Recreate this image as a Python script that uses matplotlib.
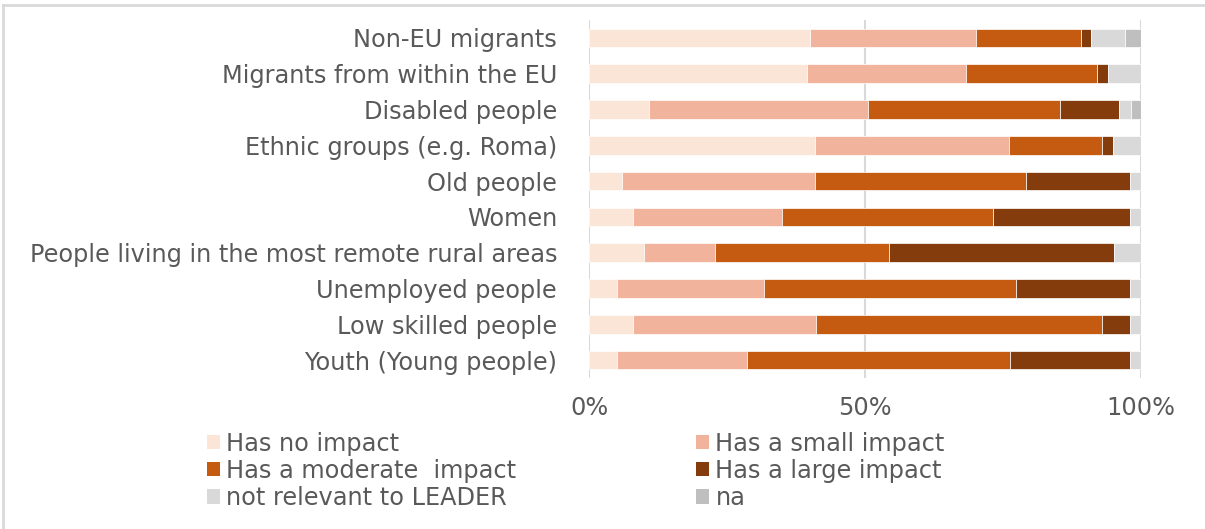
import numpy as np
import matplotlib.pyplot as plt
from matplotlib.patches import Patch
from matplotlib.lines import Line2D

categories = [
    "Non-EU migrants",
    "Migrants from within the EU",
    "Disabled people",
    "Ethnic groups (e.g. Roma)",
    "Old people",
    "Women",
    "People living in the most remote rural areas",
    "Unemployed people",
    "Low skilled people",
    "Youth (Young people)",
]

no_impact = [40.0, 39.5, 10.9, 41.0, 6.0, 7.9, 9.9, 5.0, 7.9, 5.0]
small_impact = [30.0, 28.8, 39.7, 35.0, 35.0, 27.1, 12.9, 26.7, 33.1, 23.7]
moderate_impact = [19.0, 23.7, 34.7, 17.0, 38.1, 38.1, 31.6, 45.6, 51.9, 47.5]
large_impact = [1.9, 1.9, 10.7, 2.0, 18.9, 24.9, 40.7, 20.7, 5.0, 21.8]
not_relevant = [6.1, 6.0, 2.1, 5.0, 2.0, 2.0, 4.9, 2.0, 2.0, 2.0]
na = [2.9, 0.0, 1.9, 0.0, 0.0, 0.0, 0.0, 0.0, 0.0, 0.0]

series_names = ["Has no impact", "Has a small impact", "Has a moderate  impact",
                "Has a large impact", "not relevant to LEADER", "na"]
colors = ["#FBE5D6", "#F2B39C", "#C55A11", "#843C0C", "#D9D9D9", "#BFBFBF"]
tick_labels = ["0%", "50%", "100%"]

text_color = "#595959"
fsize = 17.3

W, H = 1205, 529
fig = plt.figure(figsize=(W / 100, H / 100), dpi=100)
ax = fig.add_axes([589 / W, 1 - 378 / H, (1141 - 589) / W, (378 - 20) / H])

data = np.array([no_impact, small_impact, moderate_impact, large_impact, not_relevant, na])
totals = data.sum(axis=0)
shares = data / totals * 100

y = np.arange(len(categories))
left = np.zeros(len(categories))
for vals, name, c in zip(shares, series_names, colors):
    ax.barh(y, vals, left=left, height=0.52, color=c, edgecolor="white",
            linewidth=0.5, label=name, zorder=3)
    left += vals

ax.set_xlim(0, 100)
ax.set_ylim(len(categories) - 0.5, -0.5)
ax.set_yticks(y)
ax.set_yticklabels(categories, fontsize=fsize, color=text_color)
ax.set_xticks([0, 50, 100])
ax.set_xticklabels(tick_labels, fontsize=fsize, color=text_color)
ax.tick_params(axis="both", length=0)
ax.tick_params(axis="y", pad=23)
ax.tick_params(axis="x", pad=13)
ax.grid(axis="x", color="#D9D9D9", linewidth=1.5, zorder=0)
for s in ax.spines.values():
    s.set_visible(False)

# legend, row-wise order in two columns
handles = [Patch(facecolor=c, edgecolor="none") for c in colors]
order = [0, 2, 4, 1, 3, 5]
fig.legend([handles[i] for i in order], [series_names[i] for i in order],
           ncol=2, loc="upper left", bbox_to_anchor=(197 / W, 1 - 422 / H),
           frameon=False, fontsize=fsize, labelcolor=text_color,
           handlelength=0.55, handleheight=0.55, handletextpad=0.25,
           labelspacing=0.13, columnspacing=7.5, borderaxespad=0)

# outer chart frame
fig.add_artist(Line2D([3 / W, 3 / W], [0, 1 - 5 / H], color="#D9D9D9", lw=2))
fig.add_artist(Line2D([3 / W, 1], [1 - 5 / H, 1 - 5 / H], color="#D9D9D9", lw=2))

fig.savefig("out.png", dpi=100)
